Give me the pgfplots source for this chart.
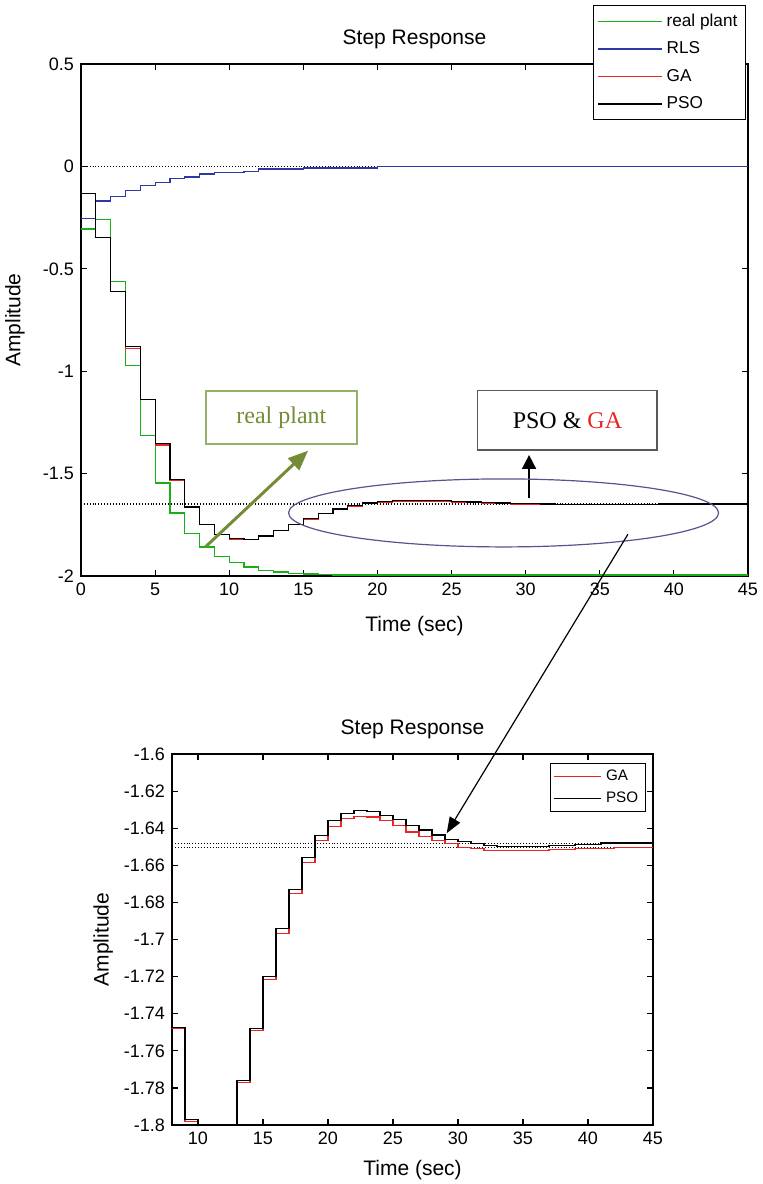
\documentclass[border=0pt]{standalone}
\usepackage{fontspec}
\setmainfont{Liberation Sans}
\newfontfamily\serifannot{Liberation Serif}
\usepackage{xcolor}
\usepackage{pgfplots}
\pgfplotsset{compat=1.18}
\usepackage{pgfplotstable}
\usetikzlibrary{arrows.meta}

\definecolor{plantgreen}{RGB}{25,175,25}
\definecolor{rlsblue}{RGB}{45,55,165}
\definecolor{gared}{RGB}{235,35,35}
\definecolor{olivetext}{RGB}{115,140,55}
\definecolor{olivebox}{RGB}{150,175,105}
\definecolor{ellpurple}{RGB}{95,80,140}

% step responses, one sample per second
\pgfplotstableread{
t  plant   rls     ga      pso
0  -0.306  -0.253  -0.132  -0.132
1  -0.261  -0.169  -0.347  -0.347
2  -0.561  -0.147  -0.612  -0.610
3  -0.971  -0.116  -0.888  -0.881
4  -1.313  -0.092  -1.140  -1.137
5  -1.546  -0.077  -1.360  -1.353
6  -1.692  -0.061  -1.532  -1.529
7  -1.793  -0.052  -1.665  -1.663
8  -1.858  -0.037  -1.748  -1.7475
9  -1.904  -0.031  -1.798  -1.797
10 -1.935  -0.031  -1.819  -1.818
11 -1.956  -0.024  -1.821  -1.820
12 -1.972  -0.013  -1.806  -1.805
13 -1.980  -0.013  -1.777  -1.776
14 -1.987  -0.013  -1.749  -1.748
15 -1.990  -0.008  -1.7216 -1.720
16 -1.994  -0.008  -1.6966 -1.694
17 -1.995  -0.008  -1.675  -1.673
18 -1.995  -0.008  -1.6586 -1.656
19 -1.995  -0.008  -1.6466 -1.644
20 -1.995  -0.002  -1.639  -1.636
21 -1.995  -0.002  -1.6347 -1.632
22 -1.995  -0.002  -1.6335 -1.6305
23 -1.995  -0.002  -1.634  -1.631
24 -1.995  -0.002  -1.636  -1.633
25 -1.995  -0.001  -1.6387 -1.6354
26 -1.995  -0.001  -1.642  -1.6387
27 -1.995  -0.001  -1.6444 -1.641
28 -1.995  -0.001  -1.6466 -1.6437
29 -1.995  -0.001  -1.6484 -1.6459
30 -1.995  -0.001  -1.6504 -1.6473
31 -1.995  -0.001  -1.651  -1.6484
32 -1.995  -0.001  -1.6522 -1.6493
33 -1.995  -0.001  -1.6522 -1.650
34 -1.995  -0.001  -1.6522 -1.650
35 -1.995  -0.001  -1.6522 -1.650
36 -1.995  -0.001  -1.6522 -1.650
37 -1.995  -0.001  -1.6516 -1.6495
38 -1.995  -0.001  -1.6516 -1.6495
39 -1.995  -0.001  -1.6509 -1.6487
40 -1.995  -0.001  -1.6509 -1.6487
41 -1.995  -0.001  -1.6509 -1.648
42 -1.995  -0.001  -1.6504 -1.648
43 -1.995  -0.001  -1.6504 -1.648
44 -1.995  -0.001  -1.6504 -1.648
45 -1.995  -0.001  -1.6504 -1.648
}\resp

\pgfplotsset{
  mstyle/.style={
    scale only axis,
    axis line style={line width=0.8pt},
    tick style={line width=0.6pt, black},
    major tick length=3pt,
    tick align=inside,
    /pgf/number format/assume math mode=true,
    ticklabel style={font=\fontsize{9}{10}\selectfont},
    label style={font=\fontsize{10.5}{12}\selectfont},
    title style={font=\fontsize{10.5}{12}\selectfont, yshift=-2pt},
    every axis plot/.append style={line width=0.6pt, const plot, mark=none},
    refline/.style={black, line width=0.45pt, densely dotted, forget plot},
  }
}

\begin{document}
\begin{tikzpicture}
\path[use as bounding box] (-40.5pt,-304pt) rectangle (340.5pt,288pt);

% ---- full step response
\begin{axis}[mstyle,
  at={(0pt,0pt)}, anchor=south west,
  width=333.5pt, height=256pt,
  xmin=0, xmax=45, ymin=-2, ymax=0.5,
  xtick={0,5,10,15,20,25,30,35,40,45},
  ytick={-2,-1.5,-1,-0.5,0,0.5},
  title={Step Response},
  xlabel={Time (sec)}, ylabel={Amplitude},
  xlabel style={at={(axis description cs:0.5,-0.098)}, anchor=center},
  ylabel style={at={(axis description cs:-0.099,0.5)}, anchor=center},
  legend style={at={(0.997,1.115)}, anchor=north east,
    font=\fontsize{8.6}{10}\selectfont, draw=black, line width=0.6pt,
    inner xsep=2pt, inner ysep=2pt, row sep=2.2pt,
    cells={anchor=west}},
  legend image code/.code={\draw[#1, line width=0.7pt, solid] (0pt,0pt) -- (32pt,0pt);},
]
\addplot[refline] coordinates {(0,0) (45,0)};
\addplot[refline] coordinates {(0,-1.648) (45,-1.648)};
\addplot[refline] coordinates {(0,-1.6504) (45,-1.6504)};
\addplot[refline] coordinates {(0,-2) (45,-2)};

\addplot[plantgreen] table[x=t, y=plant] {\resp};
\addlegendentry{real plant}
\addplot[rlsblue] table[x=t, y=rls] {\resp};
\addlegendentry{RLS}
\addplot[gared] table[x=t, y=ga] {\resp};
\addlegendentry{GA}
\addplot[black] table[x=t, y=pso] {\resp};
\addlegendentry{PSO}

\node[draw=olivebox, line width=0.7pt, minimum width=75.5pt, minimum height=26.5pt,
  text=olivetext, font=\serifannot\fontsize{12}{14}\selectfont]
  at (axis cs:13.52,-1.2256) {real plant};
\draw[olivetext, line width=1.5pt, -{Triangle[length=10pt,width=8pt]}]
  (axis cs:8.41,-1.857) -- (axis cs:15.32,-1.388);
\node[draw=black!65, line width=0.7pt, minimum width=89.7pt, minimum height=29.6pt,
  font=\serifannot\fontsize{12}{14}\selectfont]
  at (axis cs:32.82,-1.240) {PSO \& \textcolor{gared}{GA}};
\draw[black, line width=0.8pt, -{Triangle[length=7pt,width=7pt]}]
  (axis cs:30.23,-1.62) -- (axis cs:30.23,-1.409);
\draw[ellpurple, line width=0.6pt] (axis cs:28.51,-1.692) ellipse [x radius=107.5pt, y radius=17pt];
\coordinate (zoomfrom) at (axis cs:36.9,-1.796);
\end{axis}

% ---- detail of GA and PSO
\begin{axis}[mstyle,
  at={(45.5pt,-274.5pt)}, anchor=south west,
  width=240.5pt, height=185.5pt,
  xmin=8, xmax=45, ymin=-1.8, ymax=-1.6,
  xtick={10,15,20,25,30,35,40,45},
  ytick={-1.8,-1.78,-1.76,-1.74,-1.72,-1.7,-1.68,-1.66,-1.64,-1.62,-1.6},
  yticklabel style={/pgf/number format/precision=2},
  title={Step Response},
  xlabel={Time (sec)}, ylabel={Amplitude},
  xlabel style={at={(axis description cs:0.5,-0.121)}, anchor=center},
  ylabel style={at={(axis description cs:-0.143,0.5)}, anchor=center},
  legend style={at={(0.985,0.976)}, anchor=north east,
    font=\fontsize{7.6}{8.5}\selectfont, draw=black, line width=0.6pt,
    inner xsep=1.5pt, inner ysep=1pt, row sep=0.3pt,
    cells={anchor=west, inner xsep=0.5pt}},
  legend image code/.code={\draw[#1, line width=0.7pt, solid] (0pt,0pt) -- (23.5pt,0pt);},
]
\addplot[refline] coordinates {(8,-1.648) (45,-1.648)};
\addplot[refline] coordinates {(8,-1.6504) (45,-1.6504)};
\addplot[gared] table[x=t, y=ga] {\resp};
\addlegendentry{GA}
\addplot[black] table[x=t, y=pso] {\resp};
\addlegendentry{PSO}
\coordinate (zoomto) at (axis cs:29.13,-1.6427);
\end{axis}

\draw[black, line width=0.6pt, -{Triangle[length=8pt,width=6pt]}] (zoomfrom) -- (zoomto);
\end{tikzpicture}
\end{document}
